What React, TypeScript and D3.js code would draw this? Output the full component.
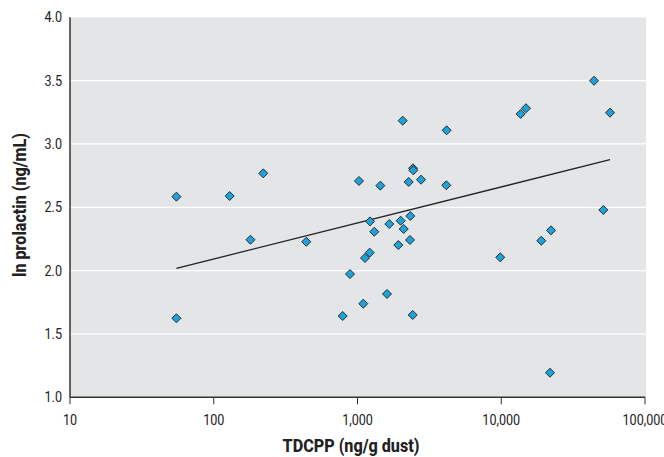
import React from "react";
import * as d3 from "d3";

const tdcpp = [55, 55, 129, 180, 221, 440, 789, 887, 1024, 1097, 1128, 1216, 1222, 1309, 1442, 1604, 1664, 1923, 1996, 2062, 2096, 2271, 2318, 2330, 2421, 2433, 2445, 2766, 4148, 4170, 9840, 13650, 14860, 19000, 21830, 22200, 44200, 51300, 57100];
const prolactin = [2.584, 1.624, 2.589, 2.244, 2.768, 2.228, 1.642, 1.973, 2.708, 1.739, 2.1, 2.142, 2.389, 2.307, 2.671, 1.816, 2.368, 2.202, 2.394, 3.184, 2.329, 2.7, 2.242, 2.431, 1.65, 2.808, 2.792, 2.718, 2.674, 3.108, 2.105, 3.237, 3.282, 2.236, 1.194, 2.318, 3.499, 2.479, 3.247];
const fitX = [55, 57100];
const fitY = [2.018, 2.876];
const xTicks = [10, 100, 1000, 10000, 100000];
const xTickLabels = ["10", "100", "1,000", "10,000", "100,000"];
const yTicks = [1.0, 1.5, 2.0, 2.5, 3.0, 3.5, 4.0];

const FONT = "'Roboto', 'Liberation Sans', sans-serif";

function CText(props: { x: number; y: number; anchor: string; size: number; sx: number; bold?: boolean; children: string; rotate?: number }) {
  const { x, y, anchor, size, sx, bold, children, rotate } = props;
  return (
    <g transform={`translate(${x},${y})${rotate ? ` rotate(${rotate})` : ""} scale(${sx},1)`}>
      <text x={0} y={0} textAnchor={anchor} fontSize={size} fontWeight={bold ? 800 : 400} fill="#222">{children}</text>
    </g>
  );
}

export default function App() {
  const W = 664, H = 457;
  const left = 70, right = 645, top = 17.3, bottom = 397.3;
  const x = d3.scaleLog().domain([10, 100000]).range([left, right]);
  const y = d3.scaleLinear().domain([1, 4]).range([bottom, top]);
  const line = d3.line<number>().x((d) => x(fitX[d])).y((d) => y(fitY[d]));
  const diamond = (cx: number, cy: number, r: number) =>
    `M${cx},${cy - r}L${cx + r},${cy}L${cx},${cy + r}L${cx - r},${cy}Z`;
  return (
    <svg width={W} height={H} style={{ position: "absolute", left: 0, top: 0 }} fontFamily={FONT}>
      <rect x={left} y={top} width={right - left + 1} height={bottom - top} fill="#e4e5e7" />
      {yTicks.filter((t) => t > 1 && t < 4).map((t) => (
        <line key={t} x1={left} x2={right + 1} y1={y(t)} y2={y(t)} stroke="#ffffff" strokeWidth={1.3} />
      ))}
      <path d={line([0, 1]) || ""} fill="none" stroke="#222" strokeWidth={1.3} />
      {tdcpp.map((v, i) => (
        <path key={i} d={diamond(x(v), y(prolactin[i]), 4.5)} fill="#1ba3de" stroke="#2a2a2a" strokeWidth={1} />
      ))}
      <line x1={left} x2={left} y1={top} y2={bottom} stroke="#333" strokeWidth={1.5} />
      <line x1={left} x2={right} y1={bottom} y2={bottom} stroke="#333" strokeWidth={1.5} />
      {xTicks.map((t, i) => (
        <g key={t}>
          <line x1={x(t)} x2={x(t)} y1={bottom} y2={bottom + 7} stroke="#333" strokeWidth={1} />
          <CText x={x(t)} y={425} anchor="middle" size={14} sx={0.9}>{xTickLabels[i]}</CText>
        </g>
      ))}
      {yTicks.map((t) => (
        <CText key={t} x={62} y={y(t) + 5} anchor="end" size={14} sx={0.9}>{t.toFixed(1)}</CText>
      ))}
      <CText x={351} y={452} anchor="middle" size={19} sx={0.85} bold>TDCPP (ng/g dust)</CText>
      <CText x={26} y={205} anchor="middle" size={19} sx={0.85} bold rotate={-90}>ln prolactin (ng/mL)</CText>
    </svg>
  );
}
